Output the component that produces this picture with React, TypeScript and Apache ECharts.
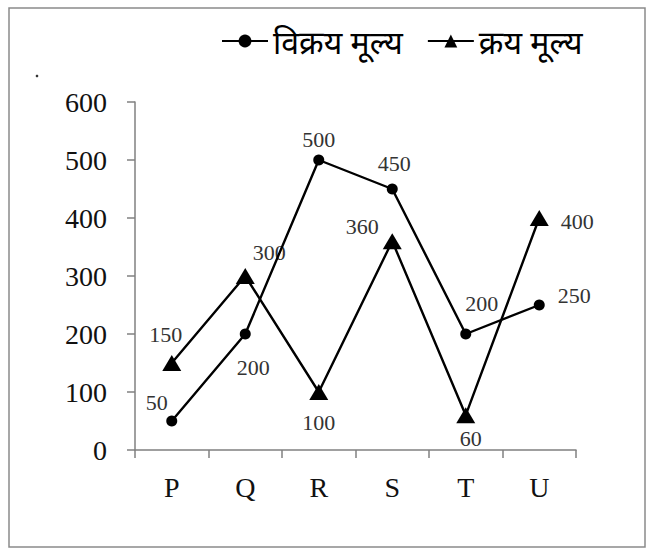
import React, { useEffect, useRef } from "react";
import * as echarts from "echarts";

const categories = ["P", "Q", "R", "S", "T", "U"];
const sellingPrice = [50, 200, 500, 450, 200, 250];
const costPrice = [150, 300, 100, 360, 60, 400];
const seriesNames = ["विक्रय मूल्य", "क्रय मूल्य"];

// label offsets relative to each point (layout only)
const sellOffsets = [[-15, -19], [8, 33], [0, -21], [2, -26], [16, -31], [35, -10]];
const costOffsets = [[-6, -29], [24, -24], [0, 30], [-30, -15], [5, 23], [38, 3]];

const serif = "'Liberation Serif', 'Times New Roman', serif";

export default function App() {
  const ref = useRef<HTMLDivElement>(null);
  useEffect(() => {
    const chart = echarts.init(ref.current!, null, { renderer: "svg" });
    const mkData = (vals: number[], offs: number[][]) =>
      vals.map((v, i) => ({
        value: v,
        label: { position: "inside", offset: offs[i] },
      }));
    chart.setOption({
      animation: false,
      backgroundColor: "#ffffff",
      graphic: [
        {
          type: "rect",
          shape: { x: 9, y: 8, width: 636, height: 539 },
          style: { fill: "none", stroke: "#8a8a8a", lineWidth: 1.5 },
        },
        {
          type: "circle",
          shape: { cx: 37, cy: 76, r: 1.3 },
          style: { fill: "#333" },
        },
      ],
      legend: {
        top: 20,
        left: 216,
        itemWidth: 46,
        itemHeight: 16,
        itemGap: 24,
        textStyle: {
          fontSize: 32,
          color: "#000",
          fontFamily: "'Noto Sans', 'Noto Sans Devanagari', sans-serif",
        },
        data: seriesNames,
      },
      grid: { left: 135, right: 80, top: 102, bottom: 109, containLabel: false },
      xAxis: {
        type: "category",
        data: categories,
        boundaryGap: true,
        axisLine: { lineStyle: { color: "#808080", width: 1.5 } },
        axisTick: { show: true, length: 8, lineStyle: { color: "#808080", width: 1.5 } },
        axisLabel: { fontSize: 28, color: "#111", fontFamily: serif, margin: 23 },
      },
      yAxis: {
        type: "value",
        min: 0,
        max: 600,
        interval: 100,
        splitLine: { show: false },
        axisLine: { show: true, lineStyle: { color: "#808080", width: 1.5 } },
        axisTick: { show: true, length: 8, lineStyle: { color: "#808080", width: 1.5 } },
        axisLabel: { fontSize: 28, color: "#111", fontFamily: serif, margin: 28 },
      },
      series: [
        {
          name: seriesNames[0],
          type: "line",
          data: mkData(sellingPrice, sellOffsets),
          symbol: "circle",
          symbolSize: 11,
          itemStyle: { color: "#000" },
          lineStyle: { color: "#000", width: 2.4 },
          label: { show: true, fontSize: 22, color: "#333", fontFamily: serif },
          z: 3,
        },
        {
          name: seriesNames[1],
          type: "line",
          data: mkData(costPrice, costOffsets),
          symbol: "triangle",
          symbolSize: [19, 16],
          itemStyle: { color: "#000" },
          lineStyle: { color: "#000", width: 2.4 },
          label: { show: true, fontSize: 22, color: "#333", fontFamily: serif },
          z: 2,
        },
      ],
    });
    return () => chart.dispose();
  }, []);
  return (
    <div
      ref={ref}
      style={{ position: "fixed", left: 0, top: 0, width: 656, height: 559 }}
    />
  );
}
